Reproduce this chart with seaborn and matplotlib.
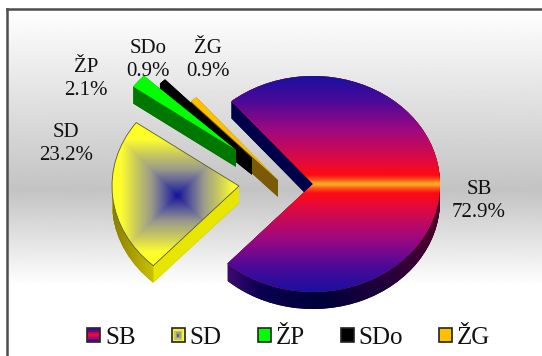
import numpy as np
import seaborn as sns
import matplotlib.pyplot as plt
from matplotlib.colors import LinearSegmentedColormap
from matplotlib.legend_handler import HandlerBase
from matplotlib.patches import Patch, PathPatch, Polygon, Rectangle
from matplotlib.path import Path

categories = ["SB", "SD", "ŽP", "SDo", "ŽG"]
shares = [72.9, 23.2, 2.1, 0.9, 0.9]
top_colors = ["#ff0a10", "#ffff20", "#00ff00", "#000000", "#ffc000"]
wall_colors = ["#00004a", "#b0a800", "#007800", "#000000", "#7a5a05"]
label_xy = [(479, 201), (66, 144), (86, 79), (148, 60), (208, 60)]

W, H = 542, 356
CX, CY, RX, RY = 313, 184, 127, 108
DEPTH = 17
# where each slice's tip ends up after pulling it out, pixels
tips = [(313, 184), (239, 186), (236, 150), (252, 158), (278, 180)]


def dx(x):
    return (x - CX) / RX


def dy(y):
    return (CY - y) / RY


sns.set_theme(style="white", rc={"font.family": ["Liberation Serif"]})

sb_cmap = LinearSegmentedColormap.from_list("sb", [
    (0, "#1a10a0"), (.11, "#4a0a98"), (.25, "#a00880"), (.39, "#e00a40"),
    (.46, "#ff0a10"), (.485, "#ff7020"), (.5, "#ffb020"), (.515, "#ff7020"),
    (.54, "#ff0a10"), (.61, "#e00a40"), (.75, "#a00880"), (.89, "#4a0a98"), (1, "#1a10a0")])
sd_cmap = LinearSegmentedColormap.from_list("sd", [
    (0, "#14149a"), (.2, "#5a5a9a"), (.4, "#9c9c8c"), (.62, "#c8c860"),
    (.85, "#fdfd30"), (1, "#ffff20")])
sb_wall = LinearSegmentedColormap.from_list("sbw", [
    (0, "#3a0a70"), (.15, "#0a0050"), (.45, "#00003a"), (.8, "#2a003a"), (1, "#500028")])
sd_wall = LinearSegmentedColormap.from_list("sdw", [(0, "#8a8000"), (1, "#c8c000")])

fig = plt.figure(figsize=(W / 100, H / 100), dpi=100)

# background panel, only the left and top edges have a line
bg = fig.add_axes([7 / W, 0, 1 - 7 / W, 1 - 9 / H])
ys = np.arange(9, H)
shade = np.interp(ys, [9, 190, 285], [1.0, 0.765, 1.0])
bg.imshow(shade[:, None], cmap="gray", vmin=0, vmax=1, aspect="auto", interpolation="bilinear")
bg.set_xticks([])
bg.set_yticks([])
sns.despine(ax=bg, top=False, right=True, bottom=True)
for side in ["left", "top"]:
    bg.spines[side].set_color("#4d4d4d")
    bg.spines[side].set_linewidth(1.8)

ax = fig.add_axes([0, 0, 1, 1])
ax.patch.set_alpha(0)
wedges, _ = ax.pie(shares, startangle=130, counterclock=False, radius=1,
                   colors=sns.color_palette(top_colors))
ax.set_aspect("auto")


def wall(wedge):
    base = wedge.get_path()
    layers = [Path(base.vertices - [0, k / RY], base.codes) for k in range(0, DEPTH + 1)]
    return Path.make_compound_path(*layers)


def corner(wedge, theta, k=0):
    cx, cy = wedge.center
    t = np.deg2rad(theta)
    return (cx + np.cos(t), cy + np.sin(t) - k / RY)


def cut_face(wedge, theta, color, zorder):
    cx, cy = wedge.center
    pts = [(cx, cy), corner(wedge, theta), corner(wedge, theta, DEPTH), (cx, cy - DEPTH / RY)]
    ax.add_patch(Polygon(pts, closed=True, fc=color, ec="none", zorder=zorder))


def gradient(img, cmap, box, clip, zorder):
    x0, x1, y0, y1 = box
    im = ax.imshow(img, cmap=cmap, vmin=0, vmax=1, aspect="auto", interpolation="bilinear",
                   extent=(dx(x0), dx(x1), dy(y1), dy(y0)), zorder=zorder)
    im.set_clip_path(clip)
    return im


# far slices first so the nearer ones paint over them
for i in [4, 3, 2, 1, 0]:
    w = wedges[i]
    w.set_center((dx(tips[i][0]), dy(tips[i][1])))
    z = (4 - i) * 4 + 1
    w.set_zorder(z + 2)
    w.set_linewidth(0)
    side = PathPatch(wall(w), fc=wall_colors[i], ec="none", transform=ax.transData, zorder=z)
    ax.add_patch(side)
    if i == 0:
        gradient(np.linspace(0, 1, 220)[None, :], sb_wall, (228, 440, 180, 315), side, z)
        cut_face(w, w.theta2, wall_colors[0], z + 1)
        gradient(np.linspace(0, 1, 220)[:, None], sb_cmap, (170, 445, 76, 292), w, z + 3)
    elif i == 1:
        gradient(np.linspace(0, 1, 60)[None, :], sd_wall, (113, 153, 180, 290), side, z)
        cut_face(w, w.theta2, "#e6e600", z + 1)
        xs, ys = np.meshgrid(np.arange(100, 250), np.arange(110, 285))
        d = np.clip(np.maximum(abs(xs - 177), abs(ys - 195)) / 66, 0, 1)
        gradient(d, sd_cmap, (100, 250, 110, 285), w, z + 3)
        edge = PathPatch(w.get_path(), fc="none", ec="#5a5a40", lw=0.6, transform=ax.transData, zorder=z + 3.5)
        ax.add_patch(edge)
    else:
        cut_face(w, w.theta2, wall_colors[i], z + 1)

ax.set_xlim(dx(0), dx(W))
ax.set_ylim(dy(H), dy(0))

for name, share, (x, y) in zip(categories, shares, label_xy):
    ax.text(dx(x), dy(y), f"{name}\n{share}%", ha="center", va="center", fontsize=15,
            color="#111111", linespacing=1.22, zorder=40)


# legend swatches: the two gradient slices get a small copy of their gradient
class Swatch(HandlerBase):
    def create_artists(self, legend, orig, xd, yd, width, height, fontsize, trans):
        name = orig.get_label()
        arts = [Rectangle((-xd, -yd), width, height, fc=orig.get_facecolor(), ec="#222222", lw=1.2, transform=trans)]
        if name == "SB":
            n = 10
            for k in range(n):
                arts.append(Rectangle((-xd + 1, -yd + 1 + (height - 2) * k / n), width - 2, (height - 2) / n,
                                      fc=sb_cmap(1 - (k + .5) / n), ec="none", transform=trans))
        if name == "SD":
            for k in range(4):
                f = 1 - k / 4
                arts.append(Rectangle((-xd + 1 + (1 - f) * (width - 2) / 2, -yd + 1 + (1 - f) * (height - 2) / 2),
                                      f * (width - 2), f * (height - 2),
                                      fc=sd_cmap(f * .8), ec="none", transform=trans))
        return arts


handles = [Patch(fc=c, label=n) for c, n in zip(top_colors, categories)]
leg = ax.legend(handles=handles, ncols=5, loc="lower left", bbox_to_anchor=(87 / W, 1 - 349 / H),
                frameon=False, fontsize=18, handlelength=0.52, handleheight=0.52,
                handletextpad=0.2, columnspacing=1.44, borderpad=0, borderaxespad=0,
                labelcolor="#111111", handler_map={Patch: Swatch()})
leg.set_zorder(50)

plt.savefig("out.png", dpi=100)
